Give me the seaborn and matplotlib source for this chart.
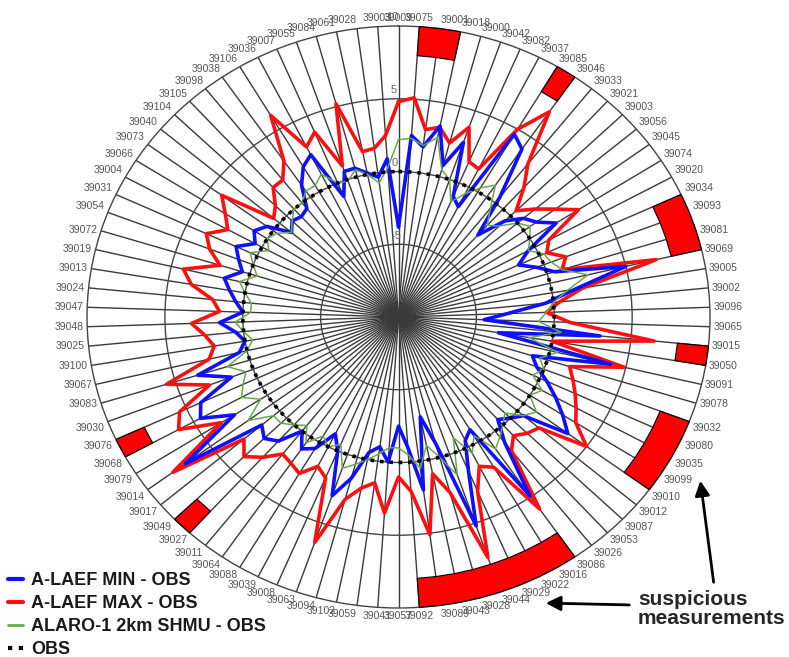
import numpy as np
import pandas as pd
import matplotlib
matplotlib.use('Agg')
import matplotlib.pyplot as plt
from matplotlib.lines import Line2D
import seaborn as sns

# ── Data (clockwise from top) ────────────────────────────────
stations = [
    '39009', '39075', '39001', '39018', '39000', '39042', '39082', '39037',
    '39085', '39046', '39033', '39021', '39003', '39056', '39045', '39074',
    '39020', '39034', '39093', '39081', '39069', '39005', '39002', '39096',
    '39065', '39015', '39050', '39091', '39078', '39032', '39080', '39035',
    '39099', '39010', '39012', '39087', '39053', '39026', '39086', '39016',
    '39022', '39029', '39044', '39028', '39043', '39089', '39092', '39057',
    '39041', '39059', '39102', '39094', '39063', '39008', '39039', '39088',
    '39064', '39011', '39027', '39049', '39017', '39014', '39079', '39068',
    '39076', '39030', '39083', '39067', '39100', '39025', '39048', '39047',
    '39024', '39013', '39019', '39072', '39054', '39031', '39004', '39066',
    '39073', '39040', '39104', '39105', '39098', '39038', '39106', '39036',
    '39007', '39055', '39084', '39061', '39028', '39003']

laef_max = [
    4.8, 5.1, 3.0, 3.3, 2.4, 3.8, 1.6, 1.4, 5.0, 7.1, 3.4, 2.0,
    0.5, 1.5, 2.5, 3.7, 1.0, 0.5, 1.5, 1.0, 7.0, 2.0, 0.4, -0.5,
    1.0, 6.5, 0.0, 4.9, 1.5, 2.0, 2.5, 3.0, 3.5, 5.0, 1.8, 1.5,
    1.0, 1.7, 6.0, 2.0, 1.5, 3.0, 7.5, 2.5, 1.0, 5.1, 2.0, 1.0,
    3.5, 1.5, 2.0, 3.0, 6.4, 2.0, 1.5, 2.5, 2.2, 2.0, 3.0, 3.8,
    3.0, 8.0, 3.5, 6.1, 5.5, 3.0, 5.6, 2.5, 2.0, 2.5, 3.3, 1.5,
    2.0, 3.5, 4.2, 2.0, 3.0, 3.6, 2.5, 3.2, 4.1, 0.5, 1.0, 2.0,
    2.0, 3.0, 6.1, 3.1, 3.8, 1.0, 5.2, 1.6, 1.7, 2.5]

laef_min = [
    -3.8, 2.5, 1.8, 3.4, 0.8, 2.7, -1.0, -1.5, 4.6, 4.0, 0.5, -2.4,
    -0.5, 0.5, 1.0, 2.0, -0.5, -1.5, -0.5, 0.5, 5.0, 1.5, -0.5, -3.0,
    -4.5, 3.0, -3.5, 4.0, -1.0, -0.5, 0.5, 1.5, 2.5, 3.5, 0.5, 0.0,
    -0.5, 1.0, 4.9, -1.0, -0.5, 1.5, 5.2, -1.0, -3.0, 2.0, -1.0, -2.5,
    0.0, -1.0, -0.5, 1.5, 3.0, 0.0, -1.0, 0.5, 1.0, 0.0, 1.5, 2.0,
    1.5, 7.0, 2.5, 4.5, 4.0, 1.5, 3.5, 0.5, 0.0, 0.5, 1.5, 0.0,
    0.5, 1.0, 1.5, 0.5, 1.0, 1.5, 0.5, 1.0, 0.5, -1.0, -0.5, -0.7,
    -0.5, 1.0, 2.0, 2.5, -1.0, 0.6, 0.6, 0.1, -0.3, 0.9]

alaro = [
    2.2, 2.3, 1.9, 2.6, 0.5, 0.0, -1.4, -0.5, 0.3, 1.0, -0.5, -1.5,
    -1.0, 0.0, 0.5, 0.0, -0.5, 0.3, 0.5, 1.0, 2.5, 1.0, 0.0, -0.5,
    -1.0, 0.5, -1.5, 0.5, -0.5, 0.0, -0.5, 0.5, 0.0, 1.0, 0.5, -0.5,
    0.0, 0.5, 1.0, -0.5, 0.5, -1.0, 1.5, 0.0, -1.0, 0.5, -0.5, -1.0,
    -1.0, -0.5, 0.0, 0.5, 1.0, -0.5, 0.0, -0.5, 0.5, -0.5, 0.0, 0.5,
    0.5, 2.0, 0.5, 1.5, 1.0, 0.5, 1.5, 0.0, -0.5, 0.0, 0.5, -0.5,
    -0.5, 0.0, 0.5, -0.5, 0.0, 0.5, -0.5, 0.0, -0.3, -1.0, -0.5, 0.0,
    0.0, 0.5, 0.5, 1.0, 0.0, -0.1, 0.5, 0.0, -0.7, 0.3]

obs = [0.0] * len(stations)

# suspicious measurements: (first station, last station) of each block
suspicious = [('39075', '39018'), ('39085', '39046'), ('39034', '39069'),
              ('39015', '39050'), ('39032', '39010'), ('39086', '39092'),
              ('39027', '39049'), ('39068', '39076')]
susp_low, susp_high = 8, 10

r_ticks = [-5, 0, 5, 10]

# ── Frame ────────────────────────────────────────────────────
sns.set_style('white')
plt.rcParams['font.family'] = ['Liberation Sans', 'DejaVu Sans']

n = len(stations)
theta = np.arange(n) * 2 * np.pi / n
idx = {s: i for i, s in enumerate(stations)}

df = pd.DataFrame({'theta': np.append(theta, 2 * np.pi),
                   'max': laef_max + laef_max[:1],
                   'min': laef_min + laef_min[:1],
                   'alaro': alaro + alaro[:1],
                   'obs': obs + obs[:1]})

fig = plt.figure(figsize=(7.89, 6.57), dpi=100)
ax = fig.add_axes([0.1103, 0.0746, 0.7896, 0.8858], projection='polar')
ax.set_aspect('auto')
ax.set_theta_zero_location('N')
ax.set_theta_direction(-1)

# suspicious blocks on the outer ring
for a, b in suspicious:
    i0, i1 = idx[a], idx[b]
    ang = theta[i0:i1 + 1]
    ax.fill(np.concatenate([ang, ang[::-1]]),
            [susp_high] * len(ang) + [susp_low] * len(ang),
            facecolor='#ff0000', edgecolor='black', lw=0.8,
            clip_on=False, zorder=3)

sns.lineplot(data=df, x='theta', y='max', sort=False, estimator=None,
             color='#ff1010', lw=2.6, ax=ax, zorder=4)
sns.lineplot(data=df, x='theta', y='min', sort=False, estimator=None,
             color='#1010ff', lw=2.6, ax=ax, zorder=5)
sns.lineplot(data=df, x='theta', y='alaro', sort=False, estimator=None,
             color='#6aa84f', lw=1.1, ax=ax, zorder=6)
sns.lineplot(data=df, x='theta', y='obs', sort=False, estimator=None,
             color='black', lw=2.6, ls=(0, (1, 1.6)), ax=ax, zorder=7)

ax.set_ylim(-10, 10)
ax.set_xticks(theta)
ax.set_xticklabels([])
ax.set_yticks(r_ticks[:-1])
ax.set_yticklabels([])
ax.set_xlabel('')
ax.set_ylabel('')
ax.xaxis.grid(True, color='#3a3a3a', lw=1.0)
ax.yaxis.grid(True, color='#444444', lw=1.0)
ax.spines['polar'].set_color('#444444')
ax.spines['polar'].set_linewidth(1.0)

# radial value labels along the top spoke
for rv in r_ticks:
    ax.text(np.deg2rad(-1.2), rv + 0.25, str(rv), ha='center', va='bottom',
            fontsize=8, color='#666666', zorder=8)

# station labels round the ring
for t, s in zip(theta, stations):
    sx, cy = np.sin(t), np.cos(t)
    ha = 'left' if sx > 0.12 else ('right' if sx < -0.12 else 'center')
    va = 'bottom' if cy > 0.35 else ('top' if cy < -0.35 else 'center')
    ax.annotate(s, xy=(t, 10), xytext=(2.5 * sx, 2.5 * cy),
                textcoords='offset points', ha=ha, va=va,
                fontsize=7.5, color='#555555', annotation_clip=False)

# ── Legend and notes ─────────────────────────────────────────
handles = [Line2D([], [], color='#1010ff', lw=3),
           Line2D([], [], color='#ff1010', lw=3),
           Line2D([], [], color='#6aa84f', lw=2),
           Line2D([], [], color='black', lw=3, ls=(0, (1, 1.6)))]
labels = ['A-LAEF MIN - OBS', 'A-LAEF MAX - OBS',
          'ALARO-1 2km SHMU - OBS', 'OBS']
fig.legend(handles, labels, loc='lower left', bbox_to_anchor=(-0.01, -0.026),
           frameon=False, handlelength=0.8, handletextpad=0.45,
           labelspacing=0.32, prop={'weight': 'bold', 'size': 13},
           labelcolor='#1a1a1a')

fig.text(638 / 789, 1 - 609 / 657, 'suspicious\nmeasurements', ha='left',
         va='center', fontsize=15, fontweight='bold', linespacing=1.05)
arrow = dict(arrowstyle='-|>', color='black', lw=2, mutation_scale=22)
ax.annotate('', xy=(700, 179), xytext=(714, 72), xycoords='figure pixels',
            textcoords='figure pixels', arrowprops=arrow)
ax.annotate('', xy=(543, 54), xytext=(632, 52), xycoords='figure pixels',
            textcoords='figure pixels', arrowprops=arrow)

plt.savefig('out.png', dpi=100)
plt.close()
